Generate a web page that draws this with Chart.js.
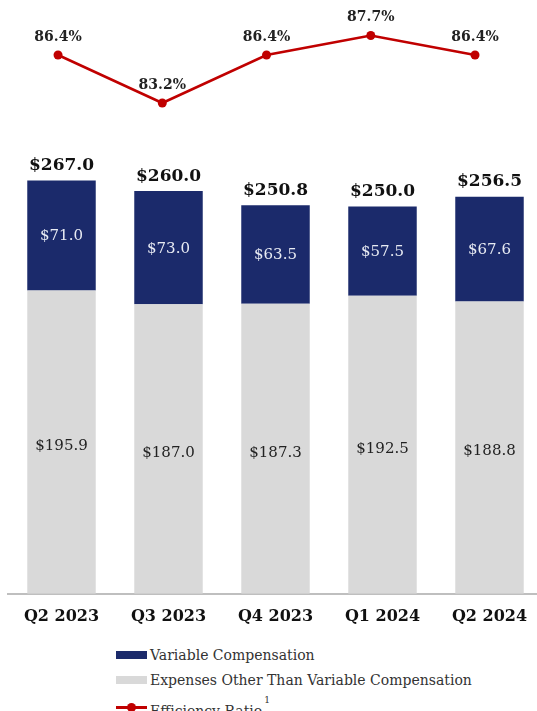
<!DOCTYPE html>
<html>
<head>
<meta charset="utf-8">
<script src="https://cdn.jsdelivr.net/npm/chart.js@4.4.1/dist/chart.umd.min.js"></script>
<style>
    html, body { margin: 0; padding: 0; background: #fff; overflow: hidden; }
    #wrap { position: relative; width: 537px; height: 711px; overflow: hidden; }
    #barBox { position: absolute; left: 0; top: 0; width: 543px; height: 639px; }
    #lineBox { position: absolute; left: 0; top: 0; width: 543px; height: 130px; }
    .lg { position: absolute; left: 150px; font-family: 'DejaVu Serif', serif; font-size: 14px; color: #333; line-height: 16px; white-space: nowrap; }
    .sw { position: absolute; left: 116px; width: 31px; height: 8px; }
    .lg sup { font-size: 9px; position: relative; top: -7px; margin-left: 2px; }
</style>
</head>
<body>
<div id="wrap">
    <div id="barBox"><canvas id="barChart"></canvas></div>
    <div id="lineBox"><canvas id="lineChart"></canvas></div>
    <div class="sw" style="top:651px; background:#1b2a6b;"></div>
    <div class="lg" style="top:647px;">Variable Compensation</div>
    <div class="sw" style="top:676px; background:#d9d9d9;"></div>
    <div class="lg" style="top:672px;">Expenses Other Than Variable Compensation</div>
    <div class="sw" style="top:706px; height:2.5px; background:#c00000;"></div>
    <div class="sw" style="top:703px; left:127px; width:9px; height:9px; border-radius:50%; background:#c00000;"></div>
    <div class="lg" style="top:699px;">Efficiency Ratio<sup>1</sup></div>
</div>
<script>
const quarters = ['Q2 2023', 'Q3 2023', 'Q4 2023', 'Q1 2024', 'Q2 2024'];
const otherExpenses = [195.9, 187.0, 187.3, 192.5, 188.8];
const variableComp = [71.0, 73.0, 63.5, 57.5, 67.6];
const totalExpenses = [267.0, 260.0, 250.8, 250.0, 256.5];
const efficiencyRatio = [86.4, 83.2, 86.4, 87.7, 86.4];

const serif = "'DejaVu Serif', serif";

// value labels for the stacked bars
const barLabels = {
    id: 'barLabels',
    afterDatasetsDraw(chart) {
        const ctx = chart.ctx;
        ctx.save();
        ctx.textAlign = 'center';
        ctx.textBaseline = 'middle';

        const greyMeta = chart.getDatasetMeta(0);
        const navyMeta = chart.getDatasetMeta(1);

        ctx.font = '15px ' + serif;
        ctx.fillStyle = '#222';
        greyMeta.data.forEach((bar, i) => {
            ctx.fillText('$' + otherExpenses[i].toFixed(1), bar.x, (bar.y + bar.base) / 2 + 4);
        });

        ctx.fillStyle = '#e8ebf3';
        navyMeta.data.forEach((bar, i) => {
            ctx.fillText('$' + variableComp[i].toFixed(1), bar.x, (bar.y + bar.base) / 2 + 1);
        });

        ctx.font = 'bold 17px ' + serif;
        ctx.fillStyle = '#111';
        navyMeta.data.forEach((bar, i) => {
            ctx.fillText('$' + totalExpenses[i].toFixed(1), bar.x, bar.y - 15);
        });
        ctx.restore();
    }
};

// percent labels above the line points
const pointLabels = {
    id: 'pointLabels',
    afterDatasetsDraw(chart) {
        const ctx = chart.ctx;
        ctx.save();
        ctx.textAlign = 'center';
        ctx.textBaseline = 'middle';
        ctx.font = 'bold 14px ' + serif;
        ctx.fillStyle = '#222';
        chart.getDatasetMeta(0).data.forEach((pt, i) => {
            ctx.fillText(efficiencyRatio[i].toFixed(1) + '%', pt.x, pt.y - 18);
        });
        ctx.restore();
    }
};

new Chart(document.getElementById('barChart'), {
    type: 'bar',
    data: {
        labels: quarters,
        datasets: [
            {
                label: 'Expenses Other Than Variable Compensation',
                data: otherExpenses,
                backgroundColor: '#d9d9d9',
                categoryPercentage: 1,
                barPercentage: 0.64
            },
            {
                label: 'Variable Compensation',
                data: variableComp,
                backgroundColor: '#1b2a6b',
                categoryPercentage: 1,
                barPercentage: 0.64
            }
        ]
    },
    options: {
        responsive: true,
        maintainAspectRatio: false,
        animation: false,
        layout: { autoPadding: false, padding: { left: 8, right: 0, top: 0, bottom: 0 } },
        plugins: {
            legend: { display: false },
            tooltip: { enabled: false }
        },
        scales: {
            x: {
                stacked: true,
                grid: { display: false, drawTicks: false },
                border: { display: true, color: '#bfbfbf', width: 2 },
                ticks: {
                    color: '#111',
                    padding: 13,
                    font: { family: serif, size: 16, weight: 'bold' }
                }
            },
            y: {
                stacked: true,
                display: false,
                min: 0,
                max: 383.4
            }
        }
    },
    plugins: [barLabels]
});

// the ratio line sits in its own strip above the bars
new Chart(document.getElementById('lineChart'), {
    type: 'line',
    data: {
        datasets: [{
            label: 'Efficiency Ratio',
            data: efficiencyRatio.map((v, i) => ({ x: i, y: v })),
            borderColor: '#c00000',
            backgroundColor: '#c00000',
            borderWidth: 2.5,
            pointRadius: 4.5,
            pointBackgroundColor: '#c00000',
            pointBorderWidth: 0,
            tension: 0
        }]
    },
    options: {
        responsive: true,
        maintainAspectRatio: false,
        animation: false,
        layout: { autoPadding: false, padding: { left: 8, right: 0, top: 0, bottom: 0 } },
        plugins: {
            legend: { display: false },
            tooltip: { enabled: false }
        },
        scales: {
            x: { type: 'linear', display: false, bounds: 'data', min: -0.48, max: 4.652 },
            y: { display: false, bounds: 'data', min: 81.4, max: 90.067 }
        }
    },
    plugins: [pointLabels]
});
</script>
</body>
</html>
